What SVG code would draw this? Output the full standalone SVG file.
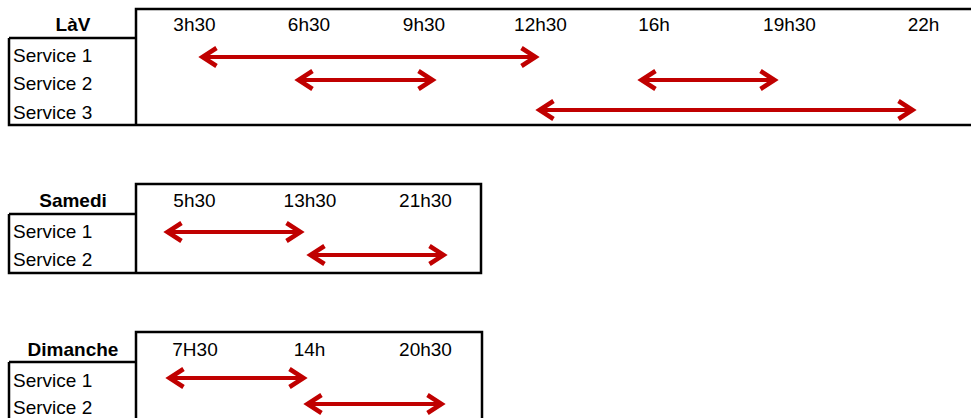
<svg xmlns="http://www.w3.org/2000/svg" width="971" height="418" viewBox="0 0 971 418">
<style>
  text { font-family: "Liberation Sans", Arial, sans-serif; font-size: 19px; fill: #000; }
  .hd { font-weight: bold; text-anchor: middle; }
  .tm { text-anchor: middle; }
  .box { fill: none; stroke: #000; stroke-width: 2.5; }
  .arr { stroke: #C00000; stroke-width: 4; fill: none; marker-start: url(#ah); marker-end: url(#ah); }
</style>
<defs>
  <marker id="ah" markerUnits="userSpaceOnUse" orient="auto-start-reverse" refX="0" refY="0" markerWidth="40" markerHeight="40" viewBox="-20 -20 40 40" overflow="visible">
    <path d="M-14,-9 L0,0 L-14,9" fill="none" stroke="#C00000" stroke-width="4.5" stroke-linejoin="miter"/>
  </marker>
</defs>
<rect width="971" height="418" fill="#fff"/>

<g id="table-lav">
  <path class="box" d="M136,125 V9 H980 M9,38 H136 M9,38 V125 H980"/>
  <text class="hd" x="73" y="31">LàV</text>
  <text class="tm" x="194.5" y="31">3h30</text>
  <text class="tm" x="309" y="31">6h30</text>
  <text class="tm" x="424" y="31">9h30</text>
  <text class="tm" x="540.5" y="31">12h30</text>
  <text class="tm" x="654" y="31">16h</text>
  <text class="tm" x="789.5" y="31">19h30</text>
  <text class="tm" x="923.5" y="31">22h</text>
  <text x="13" y="62">Service 1</text>
  <text x="13" y="90">Service 2</text>
  <text x="13" y="119">Service 3</text>
</g>

<g id="table-samedi">
  <path class="box" d="M136,273 V184 H481 V273 Z M9,214 H136 M9,214 V273 H136"/>
  <text class="hd" x="73" y="207">Samedi</text>
  <text class="tm" x="194.5" y="207">5h30</text>
  <text class="tm" x="310" y="207">13h30</text>
  <text class="tm" x="425.5" y="207">21h30</text>
  <text x="13" y="238">Service 1</text>
  <text x="13" y="266">Service 2</text>
</g>

<g id="table-dimanche">
  <path class="box" d="M136,425 V332 H482 V425 M9,362 H136 M9,362 V425"/>
  <text class="hd" x="73" y="356">Dimanche</text>
  <text class="tm" x="195" y="356">7H30</text>
  <text class="tm" x="309.5" y="356">14h</text>
  <text class="tm" x="425.5" y="356">20h30</text>
  <text x="13" y="387">Service 1</text>
  <text x="13" y="414">Service 2</text>
</g>

<g id="connectors">
  <line class="arr" x1="202.5" y1="57" x2="535.5" y2="57"/>
  <line class="arr" x1="298.5" y1="80" x2="432.5" y2="80"/>
  <line class="arr" x1="641.5" y1="80" x2="774.5" y2="80"/>
  <line class="arr" x1="539.5" y1="110" x2="912.5" y2="110"/>
  <line class="arr" x1="167.5" y1="232" x2="300.5" y2="232"/>
  <line class="arr" x1="310.5" y1="255" x2="443.5" y2="255"/>
  <line class="arr" x1="169.5" y1="378" x2="303.5" y2="378"/>
  <line class="arr" x1="307.5" y1="404" x2="441.5" y2="404"/>
</g>
</svg>
